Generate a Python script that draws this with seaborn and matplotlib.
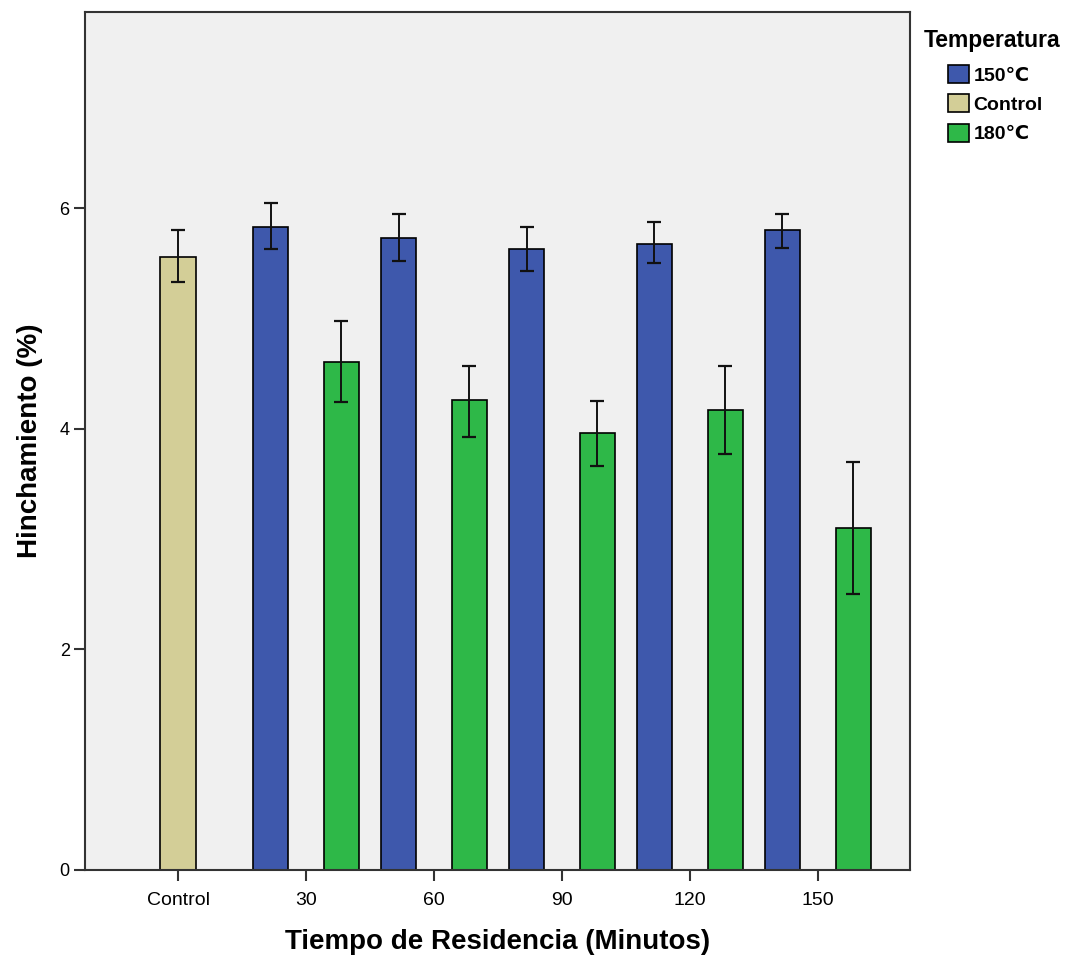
import matplotlib
matplotlib.use("Agg")
import matplotlib.pyplot as plt
import seaborn as sns
import pandas as pd
import numpy as np

# ---- data ----
tiempo = ["Control", "30", "60", "90", "120", "150"]
temp_levels = ["150\u2103", "Control", "180\u2103"]

control_val = [5.56]
control_lo = [5.33]
control_hi = [5.80]

t150_val = [5.83, 5.73, 5.63, 5.68, 5.80]
t150_lo = [5.63, 5.52, 5.43, 5.50, 5.64]
t150_hi = [6.05, 5.95, 5.83, 5.88, 5.95]

t180_val = [4.61, 4.26, 3.96, 4.17, 3.10]
t180_lo = [4.24, 3.93, 3.66, 3.77, 2.50]
t180_hi = [4.98, 4.57, 4.25, 4.57, 3.70]

colors = {"150\u2103": "#3E58AC", "Control": "#D3CE97", "180\u2103": "#2EB848"}

rows = []
rows.append(dict(Tiempo="Control", Temp="Control", val=control_val[0], lo=control_lo[0], hi=control_hi[0]))
for i, t in enumerate(tiempo[1:]):
    rows.append(dict(Tiempo=t, Temp="150\u2103", val=t150_val[i], lo=t150_lo[i], hi=t150_hi[i]))
    rows.append(dict(Tiempo=t, Temp="180\u2103", val=t180_val[i], lo=t180_lo[i], hi=t180_hi[i]))
df = pd.DataFrame(rows)

sns.set_theme(style="white")
plt.rcParams["font.family"] = ["Liberation Sans", "DejaVu Sans"]
plt.rcParams["text.color"] = "black"
plt.rcParams["axes.labelcolor"] = "black"
plt.rcParams["xtick.labelcolor"] = "black"
plt.rcParams["ytick.labelcolor"] = "black"

fig = plt.figure(figsize=(10.91, 9.6), dpi=100)
ax = fig.add_axes([85 / 1091, 1 - 870 / 960, (910 - 85) / 1091, (870 - 12) / 960])
ax.set_facecolor("#F0F0F0")

sns.barplot(data=df, x="Tiempo", y="val", hue="Temp", order=tiempo, hue_order=temp_levels,
            palette=colors, width=0.83, errorbar=None, edgecolor="black", linewidth=1.2,
            saturation=1, ax=ax)

# error bars, positioned from the drawn bars
for cont, lvl in zip(ax.containers, temp_levels):
    present = set(df[df["Temp"] == lvl]["Tiempo"])
    sub = df[df["Temp"] == lvl].set_index("Tiempo").reindex([t for t in tiempo if t in present])
    patches = sorted(cont.patches, key=lambda p: p.get_x())
    for p, (_, r) in zip(patches, sub.iterrows()):
        cx = p.get_x() + p.get_width() / 2
        ax.errorbar(cx, r["val"], yerr=[[r["val"] - r["lo"]], [r["hi"] - r["val"]]],
                    fmt="none", ecolor="#111111", elinewidth=1.4, capsize=5, capthick=1.6, zorder=5)

ax.set_ylim(0, 7.78)
ax.set_xlim(-0.727, 5.72)
ax.set_yticks([0, 2, 4, 6])
ax.set_yticklabels(["0", "2", "4", "6"])
ax.tick_params(axis="both", which="major", direction="out", length=8, width=1.5,
               color="#333333", labelsize=13, bottom=True, left=True, pad=3)
ax.tick_params(axis="x", labelsize=14, pad=8)
for s in ax.spines.values():
    s.set_color("#333333")
    s.set_linewidth(1.5)

ax.set_xlabel("Tiempo de Residencia (Minutos)", fontsize=20, fontweight="bold", labelpad=14)
ax.set_ylabel("Hinchamiento (%)", fontsize=20, fontweight="bold", labelpad=12)

handles, labels = ax.get_legend_handles_labels()
if ax.get_legend():
    ax.get_legend().remove()

fig.text(924 / 1091, 1 - 40 / 960, "Temperatura", fontsize=16.5, fontweight="bold",
         ha="left", va="center")
leg = fig.legend(handles, labels, loc="upper left", bbox_to_anchor=(948 / 1091, 1 - 65 / 960),
                 frameon=False, handlelength=1.1, handleheight=1.05,
                 handletextpad=0.2, labelspacing=0.5, borderpad=0, borderaxespad=0,
                 prop={"weight": "bold", "size": 14})
for h in leg.legend_handles:
    h.set_edgecolor("black")
    h.set_linewidth(1.2)

fig.savefig("out.png", dpi=100, facecolor="white")
